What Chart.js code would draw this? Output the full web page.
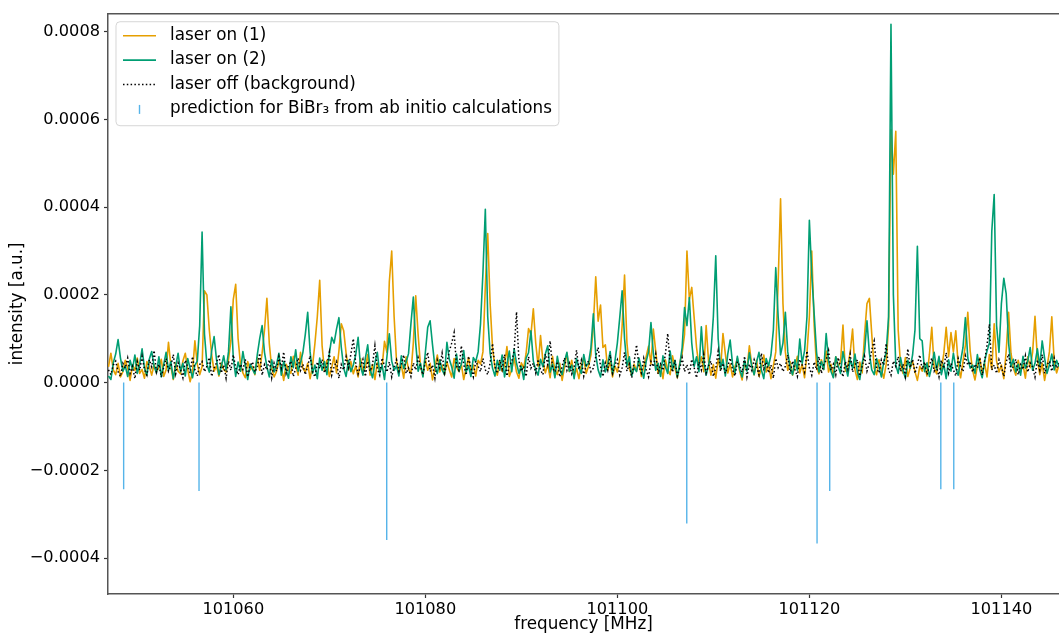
<!DOCTYPE html>
<html>
<head>
<meta charset="utf-8">
<script src="https://cdn.jsdelivr.net/npm/chart.js@4.4.1/dist/chart.umd.min.js"></script>
<style>
  html, body { margin: 0; padding: 0; background: #ffffff; }
  canvas { display: block; }
</style>
</head>
<body>
<canvas id="spectrum" width="1059" height="635"></canvas>
<script>
// Frequency grid of the recorded spectra (MHz), uniform sampling
const freqStart = 101047.0;
const freqStep = 0.25;

// Intensities in units of 1e-6 a.u.
const laserOn1 = [
  36, 67, 29, 18, 44, 13, 25, 51, 33, 5, 40, 28, 56, 21, 30, 10, 48, 37, 17, 41,
  25, 34, 53, 14, 29, 92, 37, 7, 45, 26, 20, 49, 67, 30, 2, 24, 95, 42, 18, 36,
  209, 200, 120, 63, 26, 38, 15, 45, 30, 24, 53, 95, 190, 224, 100, 41, 22, 11, 48, 29,
  37, 18, 57, 28, 67, 120, 192, 89, 33, 13, 25, 49, 36, 5, 42, 29, 21, 60, 40, 17,
  69, 32, 24, 44, 9, 38, 89, 150, 233, 84, 26, 51, 14, 34, 59, 22, 72, 134, 118, 67,
  29, 48, 20, 38, 13, 55, 24, 33, 64, 17, 41, 7, 45, 26, 36, 94, 69, 230, 300, 150,
  49, 25, 40, 10, 59, 30, 21, 90, 198, 110, 37, 15, 52, 28, 44, 6, 34, 63, 24, 40,
  18, 47, 29, 13, 55, 36, 25, 42, 7, 33, 57, 22, 40, 15, 51, 42, 70, 220, 340, 180,
  80, 34, 17, 49, 26, 38, 82, 14, 30, 56, 24, 10, 45, 33, 67, 123, 110, 168, 90, 37,
  107, 48, 22, 41, 11, 60, 29, 18, 44, 5, 36, 67, 25, 51, 15, 32, 9, 40, 56, 21,
  37, 63, 130, 241, 140, 177, 80, 86, 28, 47, 13, 38, 24, 53, 130, 245, 90, 33, 17, 42,
  26, 49, 14, 37, 59, 83, 42, 122, 71, 21, 40, 9, 52, 29, 18, 61, 33, 11, 45, 67,
  110, 300, 190, 217, 148, 80, 37, 59, 25, 130, 48, 17, 41, 10, 53, 30, 112, 65, 22, 42,
  13, 36, 55, 25, 6, 45, 29, 84, 40, 18, 51, 14, 33, 63, 24, 42, 9, 38, 70, 230,
  419, 180, 70, 28, 48, 17, 37, 60, 22, 42, 11, 67, 150, 300, 130, 34, 20, 52, 30, 72,
  24, 42, 13, 59, 36, 49, 131, 26, 38, 69, 122, 29, 7, 47, 22, 110, 180, 192, 110, 33,
  18, 52, 30, 10, 42, 130, 577, 475, 573, 120, 40, 21, 57, 14, 33, 49, 25, 5, 37, 26,
  44, 15, 63, 126, 34, 20, 53, 29, 66, 126, 59, 114, 70, 118, 41, 11, 48, 85, 160, 72,
  28, 6, 38, 56, 21, 45, 13, 64, 30, 134, 49, 24, 40, 9, 72, 160, 67, 33, 17, 51,
  25, 41, 10, 59, 34, 69, 151, 53, 18, 44, 5, 36, 70, 150, 48, 22, 40
];

const laserOn2 = [
  15, 7, 45, 65, 98, 56, 26, 38, 14, 51, 30, 63, 21, 42, 77, 33, 17, 53, 71, 37,
  22, 59, 13, 41, 69, 28, 48, 9, 37, 67, 25, 44, 15, 55, 33, 11, 40, 49, 130, 343,
  110, 42, 24, 73, 105, 53, 18, 36, 61, 29, 70, 173, 56, 14, 47, 26, 71, 38, 7, 42,
  30, 20, 64, 100, 130, 69, 36, 13, 52, 24, 41, 67, 17, 48, 29, 10, 59, 34, 75, 26,
  45, 69, 110, 160, 70, 21, 40, 9, 56, 28, 48, 18, 65, 103, 90, 122, 148, 80, 33, 14,
  51, 25, 40, 63, 103, 37, 17, 55, 86, 30, 11, 45, 69, 22, 40, 7, 59, 111, 49, 28,
  38, 15, 61, 32, 47, 66, 134, 195, 90, 26, 44, 13, 68, 126, 141, 86, 36, 21, 52, 29,
  18, 92, 53, 36, 10, 65, 26, 42, 73, 24, 38, 14, 57, 48, 70, 134, 250, 395, 150, 67,
  33, 15, 51, 28, 63, 13, 41, 72, 25, 77, 44, 21, 37, 7, 56, 68, 118, 49, 29, 17,
  53, 36, 65, 84, 24, 42, 11, 60, 30, 18, 48, 69, 26, 40, 9, 55, 33, 21, 64, 37,
  45, 80, 157, 63, 29, 13, 52, 24, 41, 71, 20, 49, 90, 148, 209, 100, 38, 59, 15, 34,
  25, 56, 33, 10, 48, 70, 137, 67, 28, 44, 14, 61, 36, 21, 72, 30, 51, 13, 41, 80,
  171, 130, 194, 90, 37, 59, 25, 127, 48, 17, 40, 69, 150, 289, 100, 33, 53, 15, 65, 97,
  42, 22, 60, 30, 13, 51, 26, 68, 37, 18, 47, 69, 29, 9, 55, 38, 63, 120, 262, 150,
  63, 90, 160, 70, 34, 18, 52, 28, 99, 44, 73, 150, 370, 248, 157, 69, 24, 48, 30, 112,
  49, 26, 11, 59, 37, 21, 71, 41, 15, 53, 33, 65, 24, 7, 45, 70, 141, 67, 29, 18,
  55, 36, 13, 47, 69, 150, 817, 200, 40, 21, 57, 28, 10, 51, 33, 63, 120, 311, 100, 95,
  25, 45, 14, 37, 69, 30, 60, 18, 42, 9, 52, 26, 67, 34, 17, 49, 80, 148, 56, 33,
  40, 21, 64, 29, 11, 48, 72, 90, 345, 429, 130, 69, 180, 238, 202, 90, 36, 53, 24, 42,
  17, 60, 33, 49, 80, 28, 44, 77, 37, 95, 56, 21, 40, 65, 29, 51, 36
];

const laserOff = [
  29, 18, 40, 49, 25, 14, 44, 33, 56, 21, 37, 9, 48, 28, 60, 30, 17, 52, 36, 73,
  24, 42, 13, 34, 55, 26, 38, 64, 20, 45, 30, 11, 51, 36, 22, 59, 29, 15, 41, 48,
  25, 37, 57, 14, 33, 45, 64, 22, 40, 10, 49, 28, 63, 34, 18, 42, 30, 53, 13, 38,
  47, 24, 36, 67, 17, 41, 29, 52, 11, 44, 26, 59, 33, 70, 21, 38, 49, 14, 32, 56,
  28, 42, 18, 37, 61, 25, 13, 47, 32, 53, 22, 40, 69, 17, 36, 48, 10, 41, 29, 59,
  34, 65, 100, 44, 20, 37, 53, 14, 49, 26, 41, 84, 32, 17, 56, 38, 24, 47, 13, 36,
  52, 26, 41, 63, 21, 33, 14, 45, 29, 57, 37, 18, 48, 69, 25, 40, 10, 51, 34, 67,
  22, 44, 72, 90, 114, 38, 28, 84, 42, 17, 60, 33, 13, 49, 37, 25, 55, 29, 18, 45,
  89, 36, 21, 52, 30, 64, 15, 40, 47, 72, 161, 49, 26, 37, 14, 59, 33, 44, 22, 53,
  29, 18, 65, 41, 95, 34, 24, 48, 13, 38, 56, 28, 44, 20, 36, 74, 30, 51, 15, 40,
  49, 25, 33, 59, 80, 37, 14, 45, 28, 63, 21, 40, 52, 17, 34, 69, 26, 42, 11, 47,
  86, 37, 22, 55, 30, 13, 48, 36, 65, 20, 42, 28, 65, 112, 40, 24, 51, 15, 33, 57,
  25, 41, 18, 53, 34, 11, 47, 29, 64, 22, 38, 49, 14, 33, 71, 26, 44, 21, 37, 56,
  30, 15, 48, 38, 24, 60, 13, 42, 28, 52, 36, 18, 67, 32, 47, 22, 40, 10, 55, 34,
  44, 25, 37, 63, 20, 49, 30, 14, 53, 40, 24, 72, 34, 17, 47, 29, 59, 21, 41, 51,
  73, 28, 42, 18, 57, 36, 13, 48, 30, 65, 24, 40, 52, 15, 37, 60, 26, 45, 75, 95,
  33, 22, 52, 40, 89, 29, 17, 49, 37, 59, 25, 42, 14, 77, 34, 53, 21, 41, 63, 30,
  47, 18, 38, 56, 26, 36, 13, 51, 32, 68, 22, 44, 29, 15, 55, 37, 25, 61, 40, 48,
  24, 42, 33, 57, 17, 49, 85, 133, 29, 40, 21, 52, 36, 14, 47, 65, 28, 37, 53, 18,
  41, 30, 61, 24, 45, 36, 13, 52, 29, 64, 21, 40, 49, 26, 56, 33, 44
];

// Predicted line positions (MHz) and stick heights (1e-6 a.u., drawn downward)
const predictionFreqs = [101048.58, 101056.43, 101075.98, 101107.23, 101120.80, 101122.12, 101133.69, 101135.04];
const predictionIntensity = [-243, -247, -359, -321, -367, -247, -243, -243];

// Axis ticks and labels
const xTickValues = [101060, 101080, 101100, 101120, 101140];
const xTickLabels = ['101060', '101080', '101100', '101120', '101140'];
const yTickValues = [-400, -200, 0, 200, 400, 600, 800];
const yTickLabels = ['\u22120.0004', '\u22120.0002', '0.0000', '0.0002', '0.0004', '0.0006', '0.0008'];

const seriesLabels = [
  'laser on (1)',
  'laser on (2)',
  'laser off (background)',
  'prediction for BiBr\u2083 from ab initio calculations'
];

const colors = {
  on1: '#E69F00',
  on2: '#009E73',
  off: '#000000',
  pred: '#56B4E9'
};

const frequencies = laserOn1.map((_, i) => freqStart + i * freqStep);

// Sticks: one segment per predicted line, separated by gaps
const stickPoints = [];
predictionFreqs.forEach((f, i) => {
  stickPoints.push({ x: f, y: 0 });
  stickPoints.push({ x: f, y: predictionIntensity[i] });
  stickPoints.push({ x: f, y: null });
});

const FONT = "'DejaVu Sans', 'Liberation Sans', sans-serif";
const TEXT_SIZE = 16.8;
const TICK_SIZE = 16.2;

// Top spine of the axes frame
const framePlugin = {
  id: 'frameTop',
  afterDatasetsDraw(chart) {
    const { ctx, chartArea } = chart;
    ctx.save();
    ctx.strokeStyle = '#555555';
    ctx.lineWidth = 1.5;
    ctx.beginPath();
    ctx.moveTo(chartArea.left - 0.75, chartArea.top);
    ctx.lineTo(chartArea.right + 2, chartArea.top);
    ctx.stroke();
    ctx.restore();
  }
};

// Framed legend in the upper left corner of the axes
const legendPlugin = {
  id: 'boxLegend',
  afterDatasetsDraw(chart) {
    const { ctx, chartArea } = chart;
    const ds = chart.data.datasets;
    const order = [3, 2, 1, 0]; // dataset indices in legend order
    const boxX = chartArea.left + 8;
    const boxY = chartArea.top + 8;
    const rowH = 24.4;
    const handleX0 = boxX + 7, handleX1 = boxX + 40;
    const textX = boxX + 54;
    ctx.save();
    ctx.font = TEXT_SIZE + 'px ' + FONT;
    let maxW = 0;
    order.forEach(k => { maxW = Math.max(maxW, ctx.measureText(ds[k].label).width); });
    const boxW = textX - boxX + maxW + 7;
    const boxH = 104;
    // frame
    const r = 4;
    ctx.beginPath();
    ctx.moveTo(boxX + r, boxY);
    ctx.lineTo(boxX + boxW - r, boxY);
    ctx.quadraticCurveTo(boxX + boxW, boxY, boxX + boxW, boxY + r);
    ctx.lineTo(boxX + boxW, boxY + boxH - r);
    ctx.quadraticCurveTo(boxX + boxW, boxY + boxH, boxX + boxW - r, boxY + boxH);
    ctx.lineTo(boxX + r, boxY + boxH);
    ctx.quadraticCurveTo(boxX, boxY + boxH, boxX, boxY + boxH - r);
    ctx.lineTo(boxX, boxY + r);
    ctx.quadraticCurveTo(boxX, boxY, boxX + r, boxY);
    ctx.closePath();
    ctx.fillStyle = 'rgba(255,255,255,0.8)';
    ctx.fill();
    ctx.strokeStyle = 'rgba(204,204,204,0.8)';
    ctx.lineWidth = 1;
    ctx.stroke();

    order.forEach((k, row) => {
      const d = ds[k];
      const y = boxY + 14 + row * rowH;
      ctx.save();
      ctx.strokeStyle = d.borderColor;
      ctx.lineWidth = d.borderWidth;
      ctx.setLineDash(d.borderDash || []);
      ctx.beginPath();
      if (d.stick) {
        const cx = (handleX0 + handleX1) / 2;
        ctx.moveTo(cx, y - 4);
        ctx.lineTo(cx, y + 5);
      } else {
        ctx.moveTo(handleX0, y);
        ctx.lineTo(handleX1, y);
      }
      ctx.stroke();
      ctx.restore();
      ctx.fillStyle = '#000000';
      ctx.textBaseline = 'middle';
      ctx.textAlign = 'left';
      ctx.fillText(d.label, textX, y);
    });
    ctx.restore();
  }
};

const chart = new Chart(document.getElementById('spectrum'), {
  type: 'line',
  data: {
    labels: frequencies,
    datasets: [
      {
        label: seriesLabels[3],
        data: stickPoints,
        borderColor: colors.pred,
        borderWidth: 1.4,
        pointRadius: 0,
        spanGaps: false,
        order: 1,
        stick: true
      },
      {
        label: seriesLabels[2],
        data: laserOff,
        borderColor: colors.off,
        borderWidth: 1.5,
        borderDash: [1.5, 2.3],
        pointRadius: 0,
        order: 2
      },
      {
        label: seriesLabels[1],
        data: laserOn2,
        borderColor: colors.on2,
        borderWidth: 1.6,
        borderJoinStyle: 'round',
        pointRadius: 0,
        order: 3
      },
      {
        label: seriesLabels[0],
        data: laserOn1,
        borderColor: colors.on1,
        borderWidth: 1.6,
        borderJoinStyle: 'round',
        pointRadius: 0,
        order: 4
      }
    ]
  },
  options: {
    responsive: false,
    maintainAspectRatio: false,
    animation: false,
    devicePixelRatio: 1,
    layout: { padding: { top: 12, right: 0, bottom: 0, left: 0 } },
    elements: { line: { tension: 0, fill: false } },
    plugins: {
      legend: { display: false },
      tooltip: { enabled: false }
    },
    scales: {
      x: {
        type: 'linear',
        position: 'bottom',
        min: 101046.95,
        max: 101146.0,
        afterBuildTicks(scale) {
          scale.ticks = xTickValues.map(v => ({ value: v }));
        },
        afterFit(scale) { scale.height = 41; },
        ticks: {
          callback: (v, i) => xTickLabels[i],
          font: { family: FONT, size: TICK_SIZE },
          color: '#000000',
          padding: 2,
          maxRotation: 0,
          autoSkip: false
        },
        grid: {
          drawOnChartArea: false,
          drawTicks: true,
          tickLength: 4,
          tickColor: '#333333',
          tickWidth: 1.2
        },
        border: { display: true, color: '#555555', width: 1.5 },
        title: {
          display: true,
          text: 'frequency [MHz]',
          font: { family: FONT, size: TEXT_SIZE },
          color: '#000000',
          padding: { top: 0, bottom: 0 }
        }
      },
      y: {
        type: 'linear',
        min: -482,
        max: 841,
        afterBuildTicks(scale) {
          scale.ticks = yTickValues.map(v => ({ value: v }));
        },
        afterFit(scale) { scale.width = 108; },
        ticks: {
          callback: (v, i) => yTickLabels[i],
          font: { family: FONT, size: TICK_SIZE },
          color: '#000000',
          padding: 4
        },
        grid: {
          drawOnChartArea: false,
          drawTicks: true,
          tickLength: 4,
          tickColor: '#333333',
          tickWidth: 1.2
        },
        border: { display: true, color: '#555555', width: 1.5 },
        title: {
          display: true,
          text: 'intensity [a.u.]',
          font: { family: FONT, size: TEXT_SIZE },
          color: '#000000',
          padding: { top: 8, bottom: 0 }
        }
      }
    }
  },
  plugins: [framePlugin, legendPlugin]
});
</script>
</body>
</html>
